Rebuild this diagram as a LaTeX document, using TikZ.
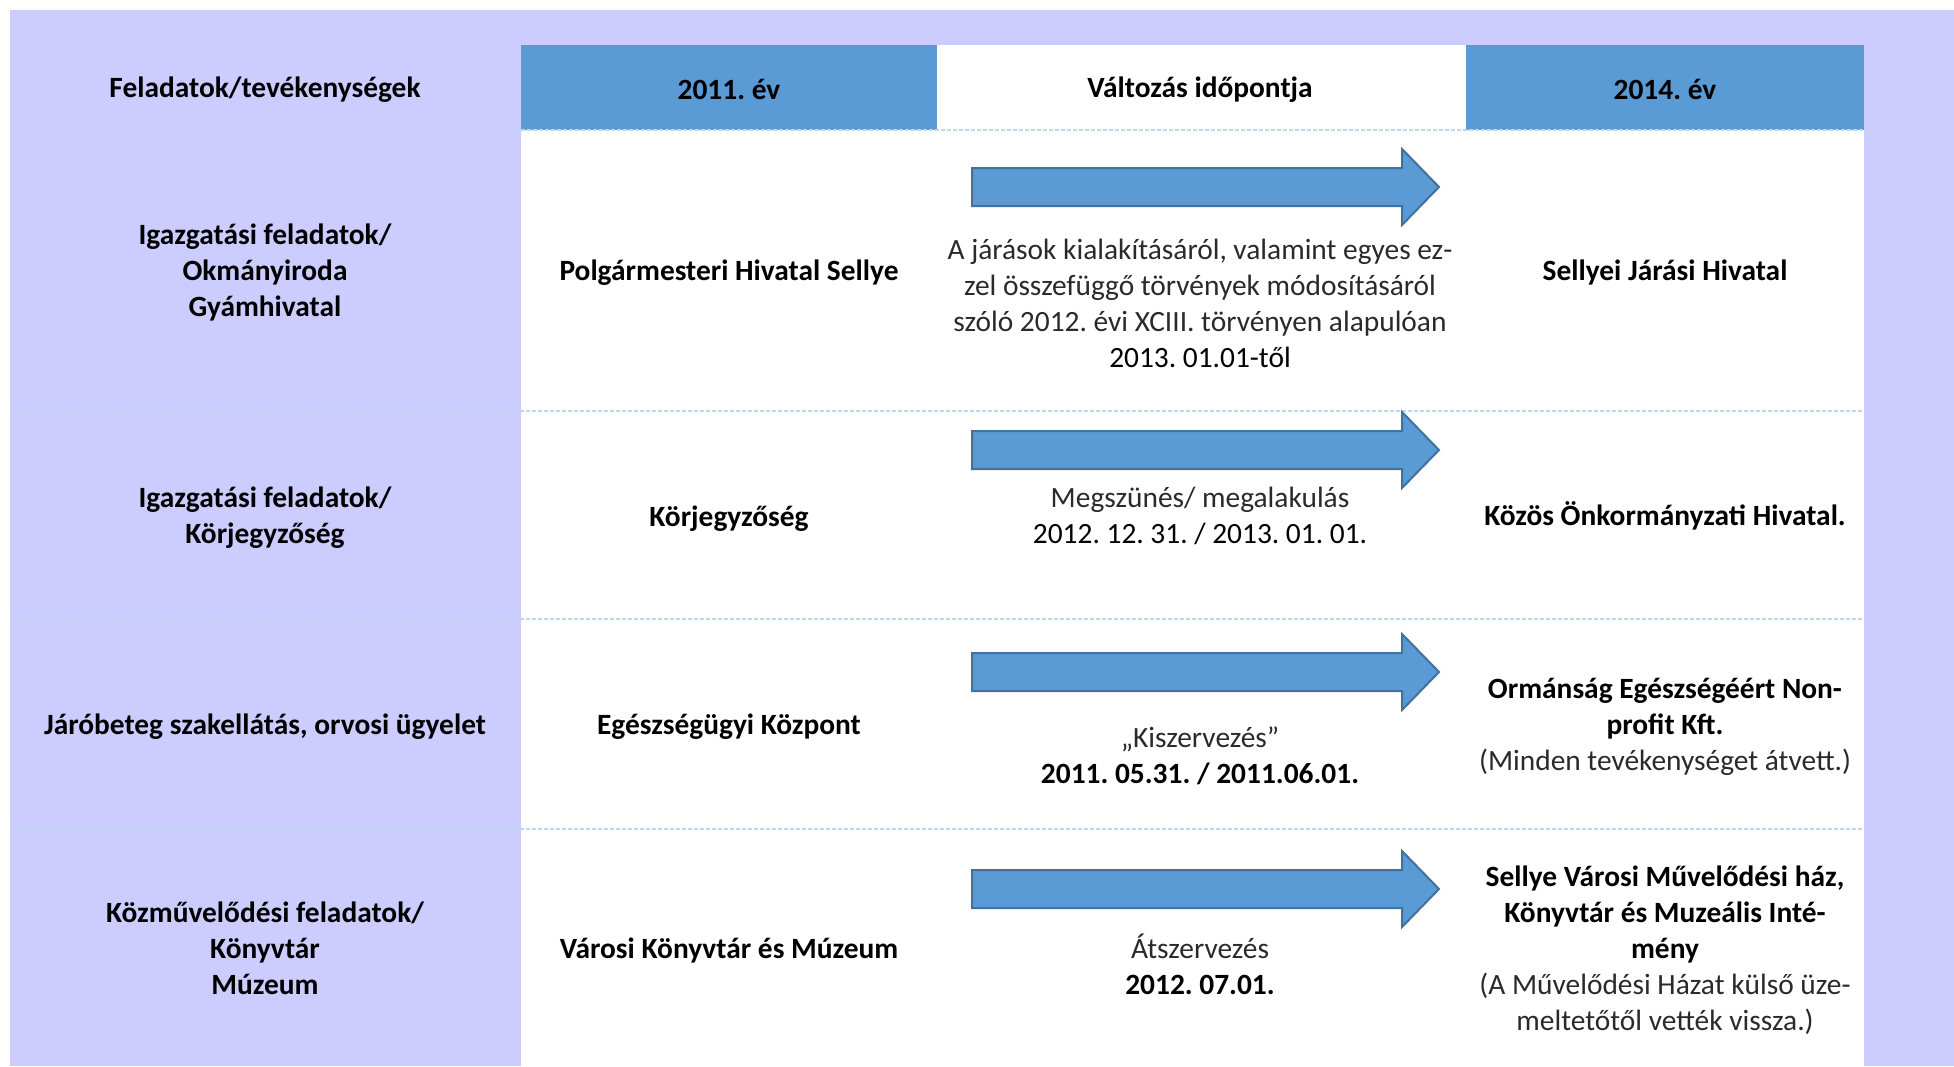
\documentclass[tikz,border=0pt]{standalone}
\usepackage{fontspec}
\setmainfont{Carlito}
\frenchspacing
\definecolor{lav}{HTML}{CCCCFF}
\definecolor{hblue}{HTML}{5B9BD5}
\definecolor{aborder}{HTML}{41719C}
\definecolor{sepline}{HTML}{BDD7EE}
\definecolor{lighttext}{HTML}{2A2A2A}
\begin{document}
\begin{tikzpicture}[x=0.5pt,y=-0.5pt,
  txt/.style={inner sep=0pt, outer sep=0pt, align=center, font=\fontsize{14.7}{18}\selectfont},
  bt/.style={txt, font=\fontsize{14.7}{18}\selectfont\bfseries},
  lt/.style={txt, text=lighttext},
  sep/.style={draw=sepline, line width=1.2pt, dash pattern=on 2pt off 1pt},
  arrowshape/.style={fill=hblue, draw=aborder, line width=1pt, line join=miter}]
\useasboundingbox (0,0) rectangle (1954,1066);
% backgrounds
\fill[white] (0,0) rectangle (1954,1066);
\fill[lav] (10,10) rectangle (1954,1066);
\fill[white] (521,45) rectangle (1864,1066);
\fill[hblue] (521,45) rectangle (937,130);
\fill[hblue] (1466,45) rectangle (1864,130);
% separators
\draw[sep] (521,130) -- (1864,130);
\foreach \yy in {411,619,829} { \draw[sep] (10,\yy) -- (1864,\yy); }
% arrows
\foreach \ty in {187,450,672,889} {
  \draw[arrowshape] (972,\ty-19) -- (1402,\ty-19) -- (1402,\ty-38) -- (1439,\ty) -- (1402,\ty+38) -- (1402,\ty+19) -- (972,\ty+19) -- cycle;
}
% header
\node[bt] (h0) at (265,89.5) {Feladatok/tevékenységek};
\node[bt] (h1) at (729,89.5) {2011. év};
\node[bt] (h2) at (1200,89.5) {Változás időpontja};
\node[bt] (h3) at (1665,89.5) {2014. év};
% row 1
\node[bt] (r1a) at (265,272.5) {Igazgatási feladatok/\\Okmányiroda\\Gyámhivatal};
\node[bt] (r1b) at (729,272.5) {Polgármesteri Hivatal Sellye};
\node[lt] (r1c) at (1200,303.5) {A járások kialakításáról, valamint egyes ez-\\zel összefüggő törvények módosításáról\\szóló 2012. évi XCIII. törvényen alapulóan\\\textcolor{black}{2013. 01.01-től}};
\node[bt] (r1d) at (1665,272.5) {Sellyei Járási Hivatal};
% row 2
\node[bt] (r2a) at (265,518) {Igazgatási feladatok/\\Körjegyzőség};
\node[bt] (r2b) at (729,518.5) {Körjegyzőség};
\node[lt] (r2c) at (1200,516) {Megszünés/ megalakulás\\\textcolor{black}{2012. 12. 31. / 2013. 01. 01.}};
\node[bt] (r2d) at (1665,516) {Közös Önkormányzati Hivatal.};
% row 3
\node[bt] (r3a) at (265,726.5) {Járóbeteg szakellátás, orvosi ügyelet};
\node[bt] (r3b) at (729,726.5) {Egészségügyi Központ};
\node[lt] (r3c) at (1200,756) {„Kiszervezés”\\\textcolor{black}{\bfseries 2011. 05.31. / 2011.06.01.}};
\node[txt] (r3d) at (1665,726.5) {\textbf{Ormánság Egészségéért Non-}\\\textbf{profit Kft.}\\\textcolor{lighttext}{(Minden tevékenységet átvett.)}};
% row 4
\node[bt] (r4a) at (265,948) {Közművelődési feladatok/\\Könyvtár\\Múzeum};
\node[bt] (r4b) at (729,950) {Városi Könyvtár és Múzeum};
\node[lt] (r4c) at (1200,964.5) {Átszervezés\\\textcolor{black}{\bfseries 2012. 07.01.}};
\node[txt] (r4d) at (1665,950) {\textbf{Sellye Városi Művelődési ház,}\\\textbf{Könyvtár és Muzeális Inté-}\\\textbf{mény}\\\textcolor{lighttext}{(A Művelődési Házat külső üze-}\\\textcolor{lighttext}{meltetőtől vették vissza.)}};
\end{tikzpicture}
\end{document}
